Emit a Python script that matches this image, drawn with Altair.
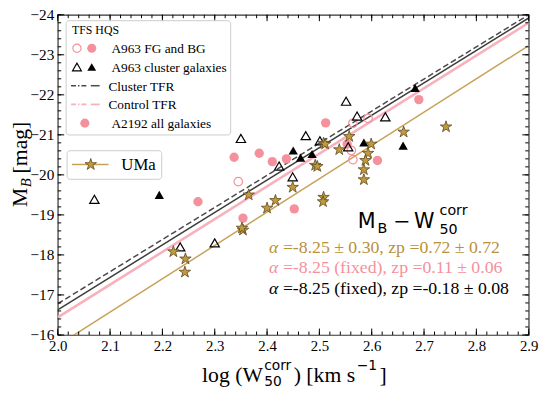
import altair as alt
import pandas as pd

# ---------------- data ----------------
pink_filled_x = [2.268, 2.337, 2.385, 2.410, 2.437, 2.512, 2.354, 2.452, 2.690, 2.611, 2.553]
pink_filled_y = [-19.33, -20.44, -20.54, -20.33, -20.40, -21.30, -18.92, -19.15, -21.88, -20.36, -20.77]

pink_open_x = [2.345, 2.564, 2.593, 2.561, 2.564]
pink_open_y = [-19.83, -21.29, -21.41, -20.61, -20.38]

tri_open_x = [2.070, 2.234, 2.300, 2.350, 2.474, 2.501, 2.423, 2.449, 2.551, 2.572, 2.626, 2.555]
tri_open_y = [-19.39, -18.20, -18.30, -20.91, -20.98, -20.85, -20.22, -19.95, -21.84, -21.47, -21.45, -20.70]

tri_filled_x = [2.194, 2.450, 2.464, 2.486, 2.683, 2.585, 2.660]
tri_filled_y = [-19.50, -20.61, -20.43, -20.52, -22.17, -20.81, -20.73]

uma_x = [2.221, 2.244, 2.243, 2.354, 2.352, 2.365, 2.400, 2.416, 2.449, 2.492, 2.496,
         2.508, 2.508, 2.507, 2.511, 2.538, 2.557, 2.599, 2.593, 2.588, 2.585, 2.585,
         2.661, 2.742]
uma_y = [-18.08, -17.90, -17.57, -18.62, -18.67, -19.50, -19.17, -19.36, -19.69, -20.24, -20.21,
         -20.79, -19.44, -19.33, -20.77, -20.63, -20.96, -20.77, -20.54, -20.36, -20.13, -19.88,
         -21.07, -21.20]

line_x = [2.0, 2.9]
cluster_dash_y = [-16.78, -24.00]
cluster_solid_y = [-16.63, -23.92]
control_y = [-16.44, -23.80]
uma_line_y = [-15.74, -23.23]

x_major = [2.0, 2.1, 2.2, 2.3, 2.4, 2.5, 2.6, 2.7, 2.8, 2.9]
x_minor = [round(2.0 + 0.02 * i, 3) for i in range(46)]
y_major = [-24, -23, -22, -21, -20, -19, -18, -17, -16]
y_minor = [round(-24 + 0.2 * i, 2) for i in range(41)]

# ---------------- styling ----------------
SERIF = "Liberation Serif"
SANS = "DejaVu Sans"
PINK = "#f4919c"
PINKLINE = "#f8b0bc"
GOLD = "#c6a257"
GOLDTXT = "#b8913a"
STARFILL = "#c29a3a"
STAREDGE = "#5c4820"
STAR = ("M0,-1L0.2245,-0.309L0.951,-0.309L0.363,0.118L0.588,0.809L0,0.382"
        "L-0.588,0.809L-0.363,0.118L-0.951,-0.309L-0.2245,-0.309Z")

W, H = 478, 325
OX, OY = 58.5, 12.0  # page position of the plot's top-left corner


def P(px, py):
    return px - OX, py - OY


xscale = alt.Scale(domain=[2.0, 2.9], nice=False, zero=False)
yscale = alt.Scale(domain=[-24, -16], reverse=True, nice=False, zero=False)
xaxis = alt.Axis(values=x_major, format=".1f", ticks=False, domain=False, grid=False, title=None,
                 labelFont=SERIF, labelFontSize=15, labelColor="black", labelPadding=4,
                 labelFlush=False)
yaxis = alt.Axis(values=y_major, format="d", ticks=False, domain=False, grid=False, title=None,
                 labelFont=SERIF, labelFontSize=15.5, labelColor="black", labelPadding=4)


def X(f="x"):
    return alt.X(f, type="quantitative", scale=xscale, axis=xaxis)


def Y(f="y"):
    return alt.Y(f, type="quantitative", scale=yscale, axis=yaxis)


def df(xs, ys):
    return pd.DataFrame({"x": xs, "y": ys})


layers = []

# fit lines
layers.append(alt.Chart(df(line_x, control_y)).mark_line(clip=True, color=PINKLINE, strokeWidth=2.6)
              .encode(x=X(), y=Y()))
layers.append(alt.Chart(df(line_x, cluster_solid_y)).mark_line(clip=True, color="#3c3c3c", strokeWidth=1.5)
              .encode(x=X(), y=Y()))
layers.append(alt.Chart(df(line_x, cluster_dash_y)).mark_line(clip=True, color="#4a4a4a", strokeWidth=1.5,
                                                              strokeDash=[6, 3])
              .encode(x=X(), y=Y()))
layers.append(alt.Chart(df(line_x, uma_line_y)).mark_line(clip=True, color=GOLD, strokeWidth=1.5)
              .encode(x=X(), y=Y()))

# points
layers.append(alt.Chart(df(pink_filled_x, pink_filled_y)).mark_point(
    shape="circle", filled=True, size=90, color=PINK, opacity=1).encode(x=X(), y=Y()))
layers.append(alt.Chart(df(pink_open_x, pink_open_y)).mark_point(
    shape="circle", filled=False, size=75, color=PINK, strokeWidth=1.2, opacity=1).encode(x=X(), y=Y()))
layers.append(alt.Chart(df(tri_open_x, tri_open_y)).mark_point(
    shape="triangle-up", filled=False, size=90, color="black", strokeWidth=1.2, opacity=1).encode(x=X(), y=Y()))
layers.append(alt.Chart(df(tri_filled_x, tri_filled_y)).mark_point(
    shape="triangle-up", filled=True, size=90, color="black", opacity=1).encode(x=X(), y=Y()))
layers.append(alt.Chart(df(uma_x, uma_y)).mark_point(
    shape=STAR, filled=True, size=150, fill=STARFILL, stroke=STAREDGE, strokeWidth=0.8, opacity=1)
    .encode(x=X(), y=Y()))

# inward ticks on all four sides
def xticks(vals, ln):
    d = pd.DataFrame({"x": vals})
    bot = alt.Chart(d).mark_rule(color="black", strokeWidth=1).encode(
        x=X(), y=alt.value(H - ln), y2=alt.value(H))
    top = alt.Chart(d).mark_rule(color="black", strokeWidth=1).encode(
        x=X(), y=alt.value(0), y2=alt.value(ln))
    return [bot, top]


def yticks(vals, ln):
    d = pd.DataFrame({"y": vals})
    lft = alt.Chart(d).mark_rule(color="black", strokeWidth=1).encode(
        y=Y(), x=alt.value(0), x2=alt.value(ln))
    rgt = alt.Chart(d).mark_rule(color="black", strokeWidth=1).encode(
        y=Y(), x=alt.value(W - ln), x2=alt.value(W))
    return [lft, rgt]


layers += xticks(x_minor, 3.5) + xticks(x_major, 6.5)
layers += yticks(y_minor, 3.5) + yticks(y_major, 6.5)

ONE = alt.Data(values=[{"a": 0}])


def txt(s, px, py, size, font=SERIF, color="black", style="normal", angle=0, align="left",
        baseline="alphabetic"):
    x, y = P(px, py)
    return alt.Chart(ONE).mark_text(text=s, font=font, fontSize=size, color=color, fontStyle=style,
                                    angle=angle, align=align, baseline=baseline).encode(
        x=alt.value(x), y=alt.value(y))


def box(px1, py1, px2, py2):
    x1, y1 = P(px1, py1)
    x2, y2 = P(px2, py2)
    return alt.Chart(ONE).mark_rect(fill="white", fillOpacity=0.85, stroke="#cccccc", strokeWidth=1,
                                    cornerRadius=3).encode(
        x=alt.value(x1), x2=alt.value(x2), y=alt.value(y1), y2=alt.value(y2))


def sym(px, py, shape, size, filled, color, stroke=None, sw=1.2):
    x, y = P(px, py)
    kw = dict(shape=shape, size=size, filled=filled, opacity=1, strokeWidth=sw)
    if filled:
        kw["fill"] = color
        if stroke:
            kw["stroke"] = stroke
    else:
        kw["stroke"] = color
    return alt.Chart(ONE).mark_point(**kw).encode(x=alt.value(x), y=alt.value(y))


def seg(px1, px2, py, color, sw, dash=None):
    x1, y = P(px1, py)
    x2, _ = P(px2, py)
    kw = dict(color=color, strokeWidth=sw)
    if dash:
        kw["strokeDash"] = dash
    return alt.Chart(ONE).mark_rule(**kw).encode(x=alt.value(x1), x2=alt.value(x2), y=alt.value(y))


# legend 1
layers.append(box(67, 18, 234, 134))
layers.append(txt("TFS  HQS", 73, 32, 12))
layers.append(sym(78, 46, "circle", 70, False, PINK))
layers.append(sym(93, 46, "circle", 85, True, PINK))
layers.append(txt("A963 FG and BG", 113, 51, 13.5))
layers.append(sym(78, 65, "triangle-up", 80, False, "black"))
layers.append(sym(93, 65, "triangle-up", 80, True, "black"))
layers.append(txt("A963 cluster galaxies", 113, 70, 13.5))
layers.append(seg(72, 89, 84, "#4a4a4a", 1.5, [5, 2, 1.5, 2]))
layers.append(seg(92, 101, 84, "#4a4a4a", 1.5))
layers.append(txt("Cluster TFR", 110, 89, 13.5))
layers.append(seg(72, 89, 103, PINKLINE, 1.8, [5, 2, 1.5, 2]))
layers.append(seg(92, 101, 103, PINKLINE, 1.8))
layers.append(txt("Control TFR", 110, 108, 13.5))
layers.append(sym(86, 122, "circle", 85, True, PINK))
layers.append(txt("A2192 all galaxies", 113, 127, 13.5))

# legend 2
layers.append(box(68, 150, 164, 179))
layers.append(seg(73, 110, 164, GOLD, 1.5))
layers.append(sym(92, 164, STAR, 150, True, STARFILL, STAREDGE, 0.8))
layers.append(txt("UMa", 123, 170, 17))

# relation label
layers.append(txt("M", 363, 228, 21, font=SANS))
layers.append(txt("B", 383, 234, 14.5, font=SANS))
layers.append(txt("\u2212", 399, 228, 21, font=SANS))
layers.append(txt("W", 420, 228, 21, font=SANS))
layers.append(txt("corr", 446, 215, 14.5, font=SANS))
layers.append(txt("50", 446, 235, 14.5, font=SANS))

# fit results
rows = [("=-8.25 \u00b1 0.30, zp =0.72 \u00b1 0.72", GOLDTXT, 254),
        ("=-8.25 (fixed), zp =0.11 \u00b1 0.06", PINK, 274),
        ("=-8.25 (fixed), zp =-0.18 \u00b1 0.08", "black", 295)]
for s, c, b in rows:
    layers.append(txt("\u03b1", 273, b, 18, color=c, style="italic"))
    layers.append(txt(s, 287, b, 18, color=c))

# x title
layers.append(txt("log (W", 205, 385, 22))
layers.append(txt("corr", 268, 373, 14, font=SANS))
layers.append(txt("50", 268, 389, 14, font=SANS))
layers.append(txt(") [km s", 298, 385, 22))
layers.append(txt("\u22121", 362, 373, 14, font=SANS))
layers.append(txt("]", 385, 385, 22))

# y title (rotated)
layers.append(txt("M", 27, 207, 22, angle=270))
layers.append(txt("B", 31, 187, 15, style="italic", angle=270))
layers.append(txt("[mag]", 27, 173, 22, angle=270))

chart = alt.layer(*layers).properties(
    width=W, height=H,
    autosize=alt.AutoSizeParams(type="none"),
    padding={"left": OX - 8, "top": OY - 8, "right": 550 - 8 - (OX - 8) - W,
             "bottom": 399 - 16 - (OY - 8) - H},
).configure_view(stroke="#333333", strokeWidth=1.2)

chart.save("out.html", embed_options={"renderer": "svg", "actions": False})
